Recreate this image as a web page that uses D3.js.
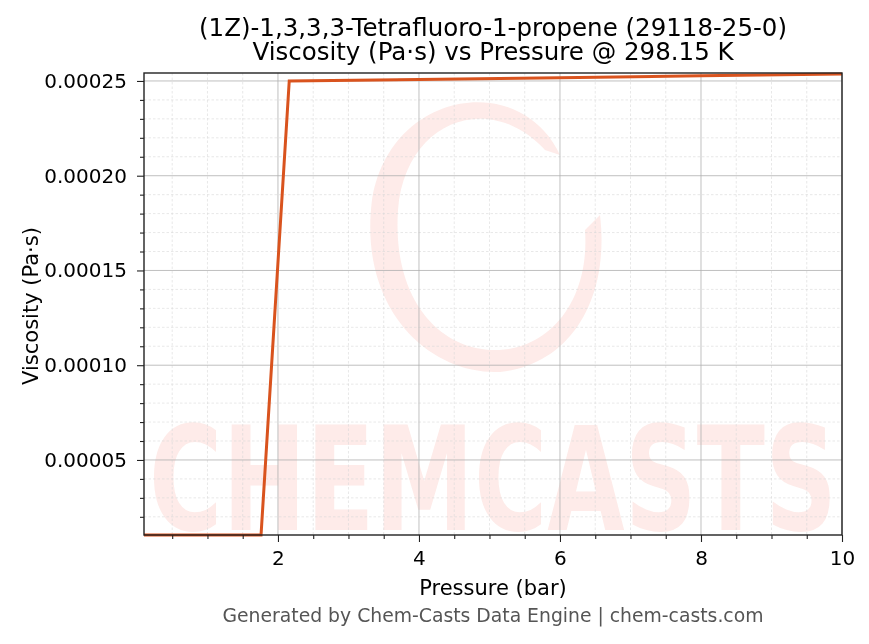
<!DOCTYPE html>
<html>
<head>
<meta charset="utf-8">
<script src="https://cdn.jsdelivr.net/npm/d3@7"></script>
<style>
  body { margin: 0; background: #fff; }
  text { font-family: "DejaVu Sans", sans-serif; }
</style>
</head>
<body>
<svg id="chart" width="869" height="644"></svg>
<script>
// data
var pressure = [0.1, 1.76, 2.16, 4, 6, 8, 10];
var viscosity = [0.0000104, 0.0000104, 0.000250, 0.0002508, 0.0002517, 0.0002527, 0.0002537];
var xTicks = [2, 4, 6, 8, 10];
var yTicks = [0.00005, 0.00010, 0.00015, 0.00020, 0.00025];
var titleLines = ["(1Z)-1,3,3,3-Tetrafluoro-1-propene (29118-25-0)", "Viscosity (Pa\u00b7s) vs Pressure @ 298.15 K"];

var svg = d3.select('#chart');
var m = {left: 144, right: 842, top: 73, bottom: 535};

var x = d3.scaleLinear().domain([0.1, 10]).range([m.left, m.right]);
var y = d3.scaleLinear().domain([0.0000104, 0.0002542]).range([m.bottom, m.top]);

var xMinor = d3.range(0.5, 10.01, 0.5).filter(function(d) { return d % 2 !== 0; });
var yMinor = d3.range(0.00002, 0.000254, 0.00001).filter(function(d) {
    return Math.abs(Math.round(d / 0.00005) * 0.00005 - d) > 1e-9; });

// watermark
var wm = svg.append('g').attr('opacity', 0.1);
wm.append('path')
    .attr('d', 'M 560 155 C 520 70, 390 90, 372 200 C 358 310, 430 375, 500 372 C 570 365, 610 300, 600 215 '
        + 'L 585 230 C 590 300, 550 350, 495 350 C 440 350, 392 300, 398 210 C 405 120, 490 90, 545 150 Z')
    .attr('fill', '#f03a1e');
wm.append('g').attr('transform', 'translate(493,530) scale(1,1.45)')
    .append('text')
    .attr('text-anchor', 'middle')
    .attr('font-size', 100).attr('font-weight', 'bold')
    .attr('fill', '#f03a1e')
    .text('CHEMCASTS');

// grid
var grid = svg.append('g');
grid.selectAll('.xm').data(xMinor).enter().append('line')
    .attr('x1', x).attr('x2', x).attr('y1', m.top).attr('y2', m.bottom)
    .attr('stroke', '#d8d8d8').attr('stroke-width', 0.6).attr('stroke-dasharray', '2.5,2');
grid.selectAll('.ym').data(yMinor).enter().append('line')
    .attr('y1', y).attr('y2', y).attr('x1', m.left).attr('x2', m.right)
    .attr('stroke', '#d8d8d8').attr('stroke-width', 0.6).attr('stroke-dasharray', '2.5,2');
grid.selectAll('.xM').data(xTicks).enter().append('line')
    .attr('x1', x).attr('x2', x).attr('y1', m.top).attr('y2', m.bottom)
    .attr('stroke', '#b0b0b0').attr('stroke-width', 0.8);
grid.selectAll('.yM').data(yTicks).enter().append('line')
    .attr('y1', y).attr('y2', y).attr('x1', m.left).attr('x2', m.right)
    .attr('stroke', '#b0b0b0').attr('stroke-width', 0.8);

// line
svg.append('clipPath').attr('id', 'clip').append('rect')
    .attr('x', m.left).attr('y', m.top - 2).attr('width', m.right - m.left).attr('height', m.bottom - m.top + 4);
var line = d3.line().x(function(d, i) { return x(pressure[i]); }).y(function(d) { return y(d); });
svg.append('path').datum(viscosity)
    .attr('d', line).attr('fill', 'none')
    .attr('stroke', '#d9531e').attr('stroke-width', 3)
    .attr('clip-path', 'url(#clip)');

// axes
svg.append('g').attr('transform', 'translate(0,' + m.bottom + ')')
    .call(d3.axisBottom(x).tickValues(xTicks).tickFormat(d3.format('d')).tickSizeOuter(0).tickSize(7).tickPadding(9));
svg.append('g').attr('transform', 'translate(' + m.left + ',0)')
    .call(d3.axisLeft(y).tickValues(yTicks).tickFormat(d3.format('.5f')).tickSizeOuter(0).tickSize(7).tickPadding(10));
svg.selectAll('.tick text').attr('font-size', 20).attr('fill', '#000')
    .style('font-family', '"DejaVu Sans", sans-serif');
var minX = svg.append('g').attr('transform', 'translate(0,' + m.bottom + ')')
    .call(d3.axisBottom(x).tickValues(xMinor).tickSizeOuter(0).tickSize(4));
var minY = svg.append('g').attr('transform', 'translate(' + m.left + ',0)')
    .call(d3.axisLeft(y).tickValues(yMinor).tickSizeOuter(0).tickSize(4));
minX.selectAll('text').remove();
minY.selectAll('text').remove();
svg.selectAll('.domain').remove();
svg.selectAll('.tick line').attr('stroke', '#222').attr('stroke-width', 1.1);

svg.append('rect')
    .attr('x', m.left).attr('y', m.top).attr('width', m.right - m.left).attr('height', m.bottom - m.top)
    .attr('fill', 'none').attr('stroke', '#222').attr('stroke-width', 1.4);

// titles
svg.selectAll('.title').data(titleLines).enter().append('text')
    .attr('x', (m.left + m.right) / 2).attr('y', function(d, i) { return 36 + i * 24; })
    .attr('text-anchor', 'middle').attr('font-size', 24.5).attr('fill', '#000')
    .text(function(d) { return d; });
svg.append('text').attr('x', (m.left + m.right) / 2).attr('y', 595)
    .attr('text-anchor', 'middle').attr('font-size', 21).text('Pressure (bar)');
svg.append('text').attr('transform', 'translate(38,' + ((m.top + m.bottom) / 2 + 2) + ') rotate(-90)')
    .attr('text-anchor', 'middle').attr('font-size', 21).text('Viscosity (Pa\u00b7s)');
svg.append('text').attr('x', 493).attr('y', 622)
    .attr('text-anchor', 'middle').attr('font-size', 18.8).attr('fill', '#555')
    .text('Generated by Chem-Casts Data Engine | chem-casts.com');
</script>
</body>
</html>
